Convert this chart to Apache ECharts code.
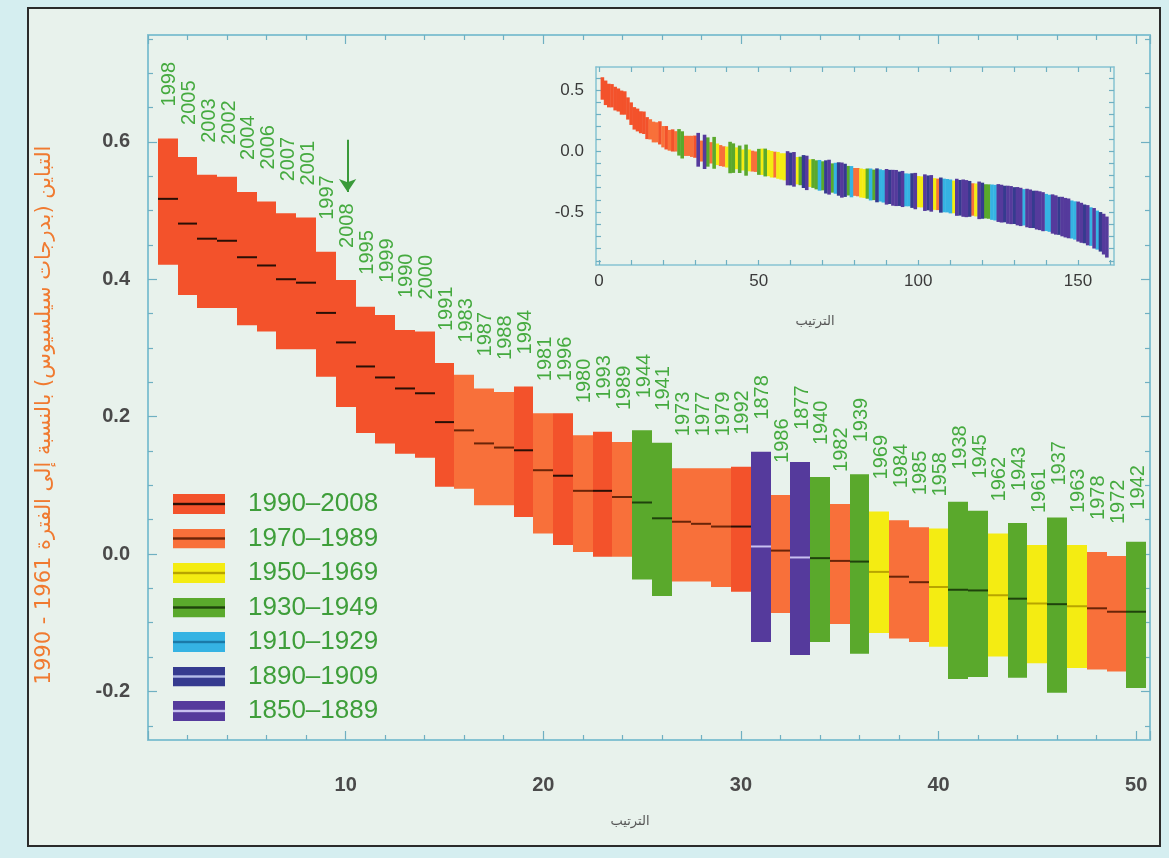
<!DOCTYPE html>
<html><head><meta charset="utf-8">
<script src="https://cdn.jsdelivr.net/npm/echarts@6/dist/echarts.min.js"></script>
<style>html,body{margin:0;padding:0;background:#d5eef0}#c{width:1169px;height:858px}</style>
</head><body><div id="c"></div>
<script>
// ---- main panel: the 50 warmest years (rank order) ----
const years = [1998,2005,2003,2002,2004,2006,2007,2001,1997,2008,
  1995,1999,1990,2000,1991,1983,1987,1988,1994,1981,
  1996,1980,1993,1989,1944,1941,1973,1977,1979,1992,
  1878,1986,1877,1940,1982,1939,1969,1984,1985,1958,
  1938,1945,1962,1943,1961,1937,1963,1978,1972,1942];
const centre = [0.517,0.481,0.459,0.456,0.432,0.420,0.400,0.395,0.351,0.308,
  0.273,0.257,0.241,0.234,0.192,0.180,0.161,0.155,0.151,0.122,
  0.114,0.092,0.092,0.083,0.075,0.052,0.047,0.044,0.040,0.040,
  0.011,0.005,-0.005,-0.006,-0.010,-0.011,-0.026,-0.033,-0.041,-0.048,
  -0.052,-0.053,-0.060,-0.065,-0.072,-0.073,-0.076,-0.079,-0.084,-0.084];
const upper = [0.605,0.578,0.552,0.549,0.527,0.513,0.496,0.490,0.440,0.399,
  0.360,0.348,0.326,0.324,0.278,0.261,0.241,0.236,0.244,0.205,
  0.205,0.173,0.178,0.163,0.180,0.162,0.125,0.125,0.125,0.127,
  0.149,0.086,0.134,0.112,0.073,0.116,0.062,0.049,0.039,0.037,
  0.076,0.063,0.030,0.045,0.013,0.053,0.013,0.003,-0.003,0.018];
const lower = [0.421,0.377,0.358,0.358,0.333,0.324,0.298,0.298,0.258,0.214,
  0.176,0.161,0.146,0.140,0.098,0.095,0.071,0.071,0.054,0.030,
  0.013,0.003,-0.004,-0.004,-0.037,-0.061,-0.040,-0.040,-0.048,-0.055,
  -0.128,-0.086,-0.147,-0.128,-0.102,-0.145,-0.115,-0.123,-0.128,-0.135,
  -0.182,-0.179,-0.149,-0.180,-0.159,-0.202,-0.166,-0.168,-0.171,-0.195];

// ---- inset: ranks 51..159 (ranks 1..50 are the arrays above) ----
const tailCentre = [-0.088,-0.094,-0.099,-0.108,-0.111,-0.117,-0.126,-0.129,-0.141,-0.147,
  -0.150,-0.161,-0.163,-0.168,-0.179,-0.181,-0.184,-0.195,-0.199,-0.203,
  -0.212,-0.214,-0.221,-0.223,-0.229,-0.238,-0.240,-0.243,-0.251,-0.253,
  -0.255,-0.262,-0.266,-0.267,-0.274,-0.277,-0.281,-0.282,-0.289,-0.293,
  -0.294,-0.301,-0.303,-0.309,-0.311,-0.318,-0.319,-0.324,-0.328,-0.333,
  -0.335,-0.341,-0.343,-0.347,-0.352,-0.355,-0.361,-0.364,-0.366,-0.372,
  -0.376,-0.379,-0.383,-0.386,-0.390,-0.392,-0.397,-0.401,-0.404,-0.407,
  -0.412,-0.414,-0.419,-0.423,-0.426,-0.431,-0.434,-0.440,-0.443,-0.447,
  -0.452,-0.458,-0.461,-0.467,-0.473,-0.478,-0.484,-0.489,-0.497,-0.503,
  -0.510,-0.516,-0.524,-0.531,-0.537,-0.546,-0.552,-0.561,-0.569,-0.578,
  -0.588,-0.597,-0.608,-0.619,-0.633,-0.648,-0.662,-0.681,-0.705];
const tailHalf = [0.108,0.114,0.107,0.109,0.106,0.110,0.108,0.111,0.140,0.134,
  0.142,0.112,0.117,0.135,0.141,0.113,0.118,0.119,0.126,0.119,
  0.136,0.143,0.120,0.127,0.137,0.144,0.136,0.121,0.128,0.114,
  0.116,0.119,0.118,0.124,0.131,0.125,0.139,0.132,0.133,0.146,
  0.140,0.147,0.148,0.141,0.148,0.135,0.134,0.142,0.149,0.128,
  0.127,0.150,0.143,0.150,0.130,0.129,0.144,0.138,0.137,0.139,
  0.134,0.152,0.146,0.153,0.152,0.147,0.133,0.135,0.154,0.148,
  0.140,0.141,0.145,0.146,0.155,0.155,0.150,0.156,0.156,0.151,
  0.157,0.157,0.149,0.158,0.158,0.153,0.159,0.159,0.160,0.152,
  0.152,0.161,0.161,0.156,0.162,0.162,0.163,0.156,0.157,0.164,
  0.164,0.159,0.165,0.158,0.166,0.160,0.162,0.167,0.168];
const tailGroup = [2,3,2,2,1,2,2,2,6,5, 6,2,3,5,6,2,3,3,4,3, 5,6,3,4,5,6,5,3,4,1,
  1,2,2,3,4,3,5,4,4,6, 5,6,6,5,6,4,4,5,6,2, 2,6,5,6,2,1,5,4,4,4,
  2,6,5,6,6,5,1,2,6,5, 3,3,4,4,6,6,5,6,6,5, 6,6,4,6,6,5,6,6,6,4,
  4,6,6,5,6,6,6,4,4,6, 6,5,6,4,6,4,5,6,6];

const groupNames = ['1990–2008','1970–1989','1950–1969','1930–1949','1910–1929','1890–1909','1850–1889'];
const groupColors = ['#f3522b','#f8703a','#f4ec12','#5aa92c','#35b3e3','#353b8f','#553a9c'];
const groupLineColors = ['#2a0f05','#6a2408','#b8a400','#1f420c','#1a7aa8','#b4bce8','#c8c0f0'];

const mainYTicks = [-0.2,0,0.2,0.4,0.6];
const mainYMinor = [-0.25,-0.15,-0.1,-0.05,0.05,0.1,0.15,0.25,0.3,0.35,0.45,0.5,0.55,0.65,0.7,0.75];
const mainXLabels = [10,20,30,40,50];
const insetYLabels = [-0.5,0,0.5];
const insetYTicks = [-0.9,-0.8,-0.7,-0.6,-0.5,-0.4,-0.3,-0.2,-0.1,0,0.1,0.2,0.3,0.4,0.5,0.6];
const insetXLabels = [0,50,100,150];
const insetXTicks = [0,10,20,30,40,50,60,70,80,90,100,110,120,130,140,150,160];
const arrowRank = 10.1, arrowFrom = 0.603, arrowTo = 0.527;

function groupOf(y){ return y>=1990?0: y>=1970?1: y>=1950?2: y>=1930?3: y>=1910?4: y>=1890?5:6; }

const frameColor = '#86c3d2';
const mainData = groupNames.map(()=>[]);
const insetData = groupNames.map(()=>[]);
years.forEach((y,i)=>{
  const g = groupOf(y);
  mainData[g].push([i+1, lower[i], upper[i], centre[i], y]);
  insetData[g].push([i+1, lower[i], upper[i]]);
});
tailCentre.forEach((c,j)=>{
  insetData[tailGroup[j]].push([51+j, c - tailHalf[j], c + tailHalf[j]]);
});

function renderMain(params, api){
  const r = api.value(0), lo = api.value(1), hi = api.value(2), c = api.value(3), yr = api.value(4);
  const p1 = api.coord([r-0.5, hi]), p2 = api.coord([r+0.5, lo]), pc = api.coord([r, c]);
  const g = groupOf(yr);
  const x0 = Math.round(p1[0]), x1 = Math.round(p2[0]);
  return {type:'group', children:[
    {type:'rect', shape:{x:x0, y:p1[1], width:x1-x0, height:p2[1]-p1[1]}, style:{fill:groupColors[g]}},
    {type:'rect', shape:{x:x0, y:pc[1]-1, width:x1-x0, height:2}, style:{fill:groupLineColors[g]}},
    {type:'text', x:pc[0]+2, y:p1[1]-32, rotation:Math.PI/2,
      style:{text:String(yr), fill:'#45aa3f', fontSize:20, fontFamily:'"Liberation Sans", Arial, sans-serif',
        align:'left', verticalAlign:'middle', textAlign:'left', textVerticalAlign:'middle'}}
  ]};
}
function makeInsetRender(g){
  return function(params, api){
    const r = api.value(0), lo = api.value(1), hi = api.value(2);
    const p1 = api.coord([r-0.5, hi]), p2 = api.coord([r+0.5, lo]);
    return {type:'rect', shape:{x:p1[0], y:p1[1], width:p2[0]-p1[0]+0.4, height:p2[1]-p1[1]}, style:{fill:groupColors[g]}};
  };
}
function icon(g){
  const svg = '<svg xmlns="http://www.w3.org/2000/svg" width="52" height="20"><rect width="52" height="20" fill="'+groupColors[g]+'"/><rect y="8.8" width="52" height="2.4" fill="'+groupLineColors[g]+'"/></svg>';
  return 'image://data:image/svg+xml;charset=utf-8,' + encodeURIComponent(svg);
}

const Y_MIN = -0.2707, Y_MAX = 0.7555, X_MAX = 50.7;
const IY_MIN = -0.934, IY_MAX = 0.689, IX_MIN = -0.94, IX_MAX = 161.3;
const lineSt = {color: frameColor, width: 2};
const tickSt = {color: '#6fb0c2', width: 1.2};

const series = [];
groupNames.forEach((n,g)=>{
  series.push({type:'custom', name:n, xAxisIndex:0, yAxisIndex:0, renderItem:renderMain,
    encode:{x:0, y:[1,2]}, data:mainData[g], z:3,
    markLine: g===0 ? {silent:true, symbol:['none','arrow'], symbolSize:13, label:{show:false},
      lineStyle:{color:'#3a9a3a', width:2, type:'solid'},
      data:[[{coord:[arrowRank, arrowFrom]},{coord:[arrowRank, arrowTo]}]]} : undefined});
});
groupNames.forEach((n,g)=>{
  series.push({type:'custom', name:n, xAxisIndex:2, yAxisIndex:4, renderItem:makeInsetRender(g),
    encode:{x:0, y:[1,2]}, data:insetData[g], z:3});
});

const chart = echarts.init(document.getElementById('c'), null, {renderer:'canvas'});
chart.setOption({
  animation:false,
  backgroundColor:'transparent',
  graphic:[
    {type:'rect', z:-100, shape:{x:28, y:8, width:1132, height:838}, style:{fill:'#e8f2ec', stroke:'#2b2b2b', lineWidth:2}},
    {type:'text', z:10, x:45, y:415, rotation:Math.PI/2,
      style:{text:'التباين (بدرجات سيلسيوس) بالنسبة إلى الفترة 1961 - 1990', fill:'#f07a30', fontSize:21,
        fontFamily:'"DejaVu Sans", sans-serif', align:'center', verticalAlign:'middle', textAlign:'center', textVerticalAlign:'middle'}},
    {type:'text', z:10, x:630, y:822,
      style:{text:'الترتيب', fill:'#555', fontSize:13, fontFamily:'"DejaVu Sans", sans-serif', align:'center', verticalAlign:'middle', textAlign:'center', textVerticalAlign:'middle'}},
    {type:'text', z:10, x:815, y:322,
      style:{text:'الترتيب', fill:'#555', fontSize:13, fontFamily:'"DejaVu Sans", sans-serif', align:'center', verticalAlign:'middle', textAlign:'center', textVerticalAlign:'middle'}}
  ],
  legend:{orient:'vertical', left:168, top:486, itemWidth:52, itemHeight:20, itemGap:8.5, selectedMode:false,
    textStyle:{color:'#3e9e3a', fontSize:26, lineHeight:26, fontFamily:'"Liberation Sans", Arial, sans-serif', padding:[0,0,0,18]},
    data: groupNames.map((n,g)=>({name:n, icon:icon(g)}))},
  grid:[
    {left:148, right:19, top:35, bottom:118},
    {left:596, top:67, width:518, height:198}
  ],
  xAxis:[
    {gridIndex:0, type:'value', position:'bottom', min:0, max:X_MAX, interval:10,
      axisLine:{onZero:false, lineStyle:lineSt}, axisTick:{inside:true, length:9, lineStyle:tickSt},
      minorTick:{show:true, splitNumber:5, length:5, lineStyle:tickSt},
      axisLabel:{customValues:mainXLabels, margin:35, fontSize:20, fontWeight:'bold', color:'#4a4a4a', fontFamily:'"Liberation Sans", Arial, sans-serif'},
      splitLine:{show:false}},
    {gridIndex:0, type:'value', position:'top', min:0, max:X_MAX, interval:10,
      axisLine:{onZero:false, lineStyle:lineSt}, axisTick:{inside:true, length:9, lineStyle:tickSt},
      minorTick:{show:true, splitNumber:5, length:5, lineStyle:tickSt},
      axisLabel:{show:false}, splitLine:{show:false}},
    {gridIndex:1, type:'value', position:'bottom', min:IX_MIN, max:IX_MAX,
      axisLine:{onZero:false, lineStyle:{color:frameColor, width:1.5}},
      axisTick:{inside:true, length:5, customValues:insetXTicks, lineStyle:tickSt},
      axisLabel:{customValues:insetXLabels, margin:8, fontSize:17, color:'#3a3a3a', fontFamily:'"Liberation Sans", Arial, sans-serif'},
      splitLine:{show:false}},
    {gridIndex:1, type:'value', position:'top', min:IX_MIN, max:IX_MAX,
      axisLine:{onZero:false, lineStyle:{color:frameColor, width:1.5}},
      axisTick:{inside:true, length:5, customValues:insetXTicks, lineStyle:tickSt},
      axisLabel:{show:false}, splitLine:{show:false}}
  ],
  yAxis:[
    {gridIndex:0, type:'value', position:'left', min:Y_MIN, max:Y_MAX,
      axisLine:{onZero:false, lineStyle:lineSt}, axisTick:{inside:true, length:9, customValues:mainYTicks, lineStyle:tickSt},
      axisLabel:{customValues:mainYTicks, formatter:v=>v.toFixed(1), margin:18, fontSize:20, fontWeight:'bold', color:'#4a4a4a', fontFamily:'"Liberation Sans", Arial, sans-serif'},
      splitLine:{show:false}},
    {gridIndex:0, type:'value', position:'right', min:Y_MIN, max:Y_MAX,
      axisLine:{onZero:false, lineStyle:lineSt}, axisTick:{inside:true, length:9, customValues:mainYTicks, lineStyle:tickSt},
      axisLabel:{show:false}, splitLine:{show:false}},
    {gridIndex:0, type:'value', position:'left', min:Y_MIN, max:Y_MAX,
      axisLine:{show:false, onZero:false}, axisTick:{inside:true, length:5, customValues:mainYMinor, lineStyle:tickSt},
      axisLabel:{show:false}, splitLine:{show:false}},
    {gridIndex:0, type:'value', position:'right', min:Y_MIN, max:Y_MAX,
      axisLine:{show:false, onZero:false}, axisTick:{inside:true, length:5, customValues:mainYMinor, lineStyle:tickSt},
      axisLabel:{show:false}, splitLine:{show:false}},
    {gridIndex:1, type:'value', position:'left', min:IY_MIN, max:IY_MAX,
      axisLine:{onZero:false, lineStyle:{color:frameColor, width:1.5}},
      axisTick:{inside:true, length:5, customValues:insetYTicks, lineStyle:tickSt},
      axisLabel:{customValues:insetYLabels, formatter:v=>v.toFixed(1), margin:12, fontSize:17, color:'#3a3a3a', fontFamily:'"Liberation Sans", Arial, sans-serif'},
      splitLine:{show:false}},
    {gridIndex:1, type:'value', position:'right', min:IY_MIN, max:IY_MAX,
      axisLine:{onZero:false, lineStyle:{color:frameColor, width:1.5}},
      axisTick:{inside:true, length:5, customValues:insetYTicks, lineStyle:tickSt},
      axisLabel:{show:false}, splitLine:{show:false}}
  ],
  series: series
});
</script></body></html>
